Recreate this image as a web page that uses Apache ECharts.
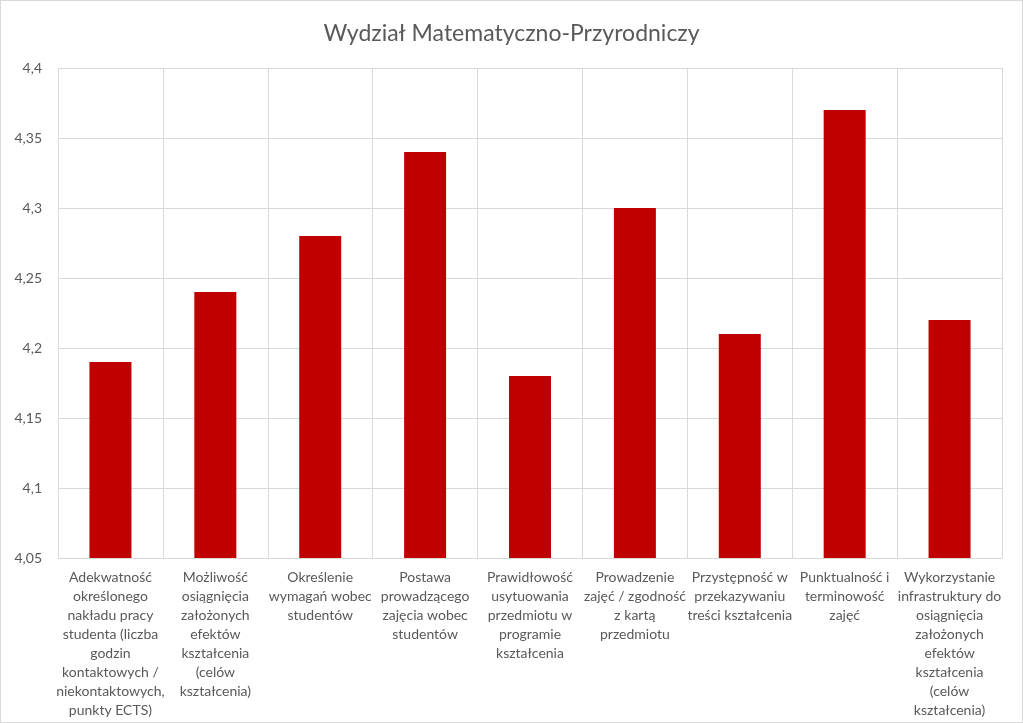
<!DOCTYPE html>
<html>
<head>
<meta charset="utf-8">
<script src="https://cdn.jsdelivr.net/npm/echarts@6/dist/echarts.min.js"></script>
<style>
html,body{margin:0;padding:0;background:#fff;}
#c{width:1023px;height:723px;box-sizing:border-box;border:1px solid #d9d9d9;}
</style>
</head>
<body>
<div id="c"></div>
<script>
const titleText = 'Wydział Matematyczno-Przyrodniczy';
const categories = [
  'Adekwatność\nokreślonego\nnakładu pracy\nstudenta (liczba\ngodzin\nkontaktowych /\nniekontaktowych,\npunkty ECTS)',
  'Możliwość\nosiągnięcia\nzałożonych\nefektów\nkształcenia\n(celów\nkształcenia)',
  'Określenie\nwymagań wobec\nstudentów',
  'Postawa\nprowadzącego\nzajęcia wobec\nstudentów',
  'Prawidłowość\nusytuowania\nprzedmiotu w\nprogramie\nkształcenia',
  'Prowadzenie\nzajęć / zgodność\nz kartą\nprzedmiotu',
  'Przystępność w\nprzekazywaniu\ntreści kształcenia',
  'Punktualność i\nterminowość\nzajęć',
  'Wykorzystanie\ninfrastruktury do\nosiągnięcia\nzałożonych\nefektów\nkształcenia\n(celów\nkształcenia)'
];
const values = [4.19, 4.24, 4.28, 4.34, 4.18, 4.30, 4.21, 4.37, 4.22];
const yMin = 4.05, yMax = 4.4, yStep = 0.05;

const chart = echarts.init(document.getElementById('c'));
chart.setOption({
  animation: false,
  textStyle: {fontFamily: 'Lato'},
  title: {
    text: titleText, left: 'center', top: 16,
    textStyle: {fontFamily: 'Lato', fontSize: 23, fontWeight: 'normal', color: '#595959'}
  },
  grid: {left: 57, right: 20, top: 67, bottom: 164, containLabel: false},
  xAxis: {
    type: 'category', data: categories,
    axisTick: {show: false},
    axisLine: {lineStyle: {color: '#d9d9d9'}},
    splitLine: {show: true, lineStyle: {color: '#d9d9d9'}},
    axisLabel: {interval: 0, color: '#595959', fontSize: 14, lineHeight: 19, margin: 10, fontFamily: 'Lato'}
  },
  yAxis: {
    type: 'value', min: yMin, max: yMax, interval: yStep,
    axisLine: {show: false}, axisTick: {show: false},
    splitLine: {lineStyle: {color: '#d9d9d9'}},
    axisLabel: {
      color: '#595959', fontSize: 14, margin: 16, fontFamily: 'Lato',
      formatter: v => String(Math.round(v * 100) / 100).replace('.', ',')
    }
  },
  series: [{
    type: 'bar', data: values, barWidth: 42,
    itemStyle: {color: '#c00000'}
  }]
});
</script>
</body>
</html>
